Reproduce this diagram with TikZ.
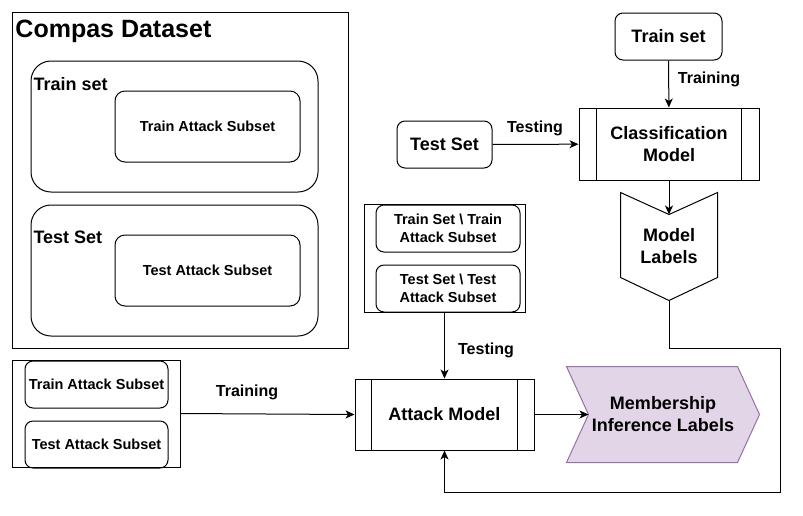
\documentclass[tikz,border=0pt]{standalone}
\usepackage{fontspec}
\setmainfont{Liberation Sans}
\usepackage{xcolor}
\definecolor{miFill}{HTML}{E1D5E7}
\definecolor{miLine}{HTML}{9673A6}
\usepackage{tikz}
\usetikzlibrary{positioning,arrows.meta,calc}

\begin{document}
\begin{tikzpicture}[x=1pt,y=-1pt,line width=1pt,
  box/.style={draw,rounded corners=8pt,align=center,inner sep=0pt,font=\bfseries\fontsize{14.5}{18}\selectfont},
  big/.style={box,font=\bfseries\fontsize{18}{22}\selectfont},
  frame/.style={draw,inner sep=0pt},
  lbl/.style={font=\bfseries\fontsize{16}{19}\selectfont,anchor=base},
  a/.style={-{Stealth[length=9pt,width=8pt,inset=2.5pt]}}]
  \useasboundingbox[fill=white] (0,0) rectangle (803,515);

  \node[frame,minimum width=336,minimum height=336] (compas) at (180,180) {};
  \node[anchor=base west,inner sep=0pt,font=\bfseries\fontsize{25}{30}\selectfont] (ctitle) at (15,37) {Compas Dataset};
  \node[box,rounded corners=20pt,minimum width=287,minimum height=131] (trset) at (174.5,126.5) {};
  \node[anchor=base west,inner sep=0pt,font=\bfseries\fontsize{18}{22}\selectfont] (trtitle) at (33,90) {Train set};
  \node[box,rounded corners=10pt,minimum width=185,minimum height=71] (trsub) at (207.5,126.5) {Train Attack Subset};
  \node[box,rounded corners=20pt,minimum width=287,minimum height=131] (teset) at (174.5,270.5) {};
  \node[anchor=base west,inner sep=0pt,font=\bfseries\fontsize{18}{22}\selectfont] (tetitle) at (33,243) {Test Set};
  \node[box,rounded corners=10pt,minimum width=185,minimum height=71] (tesub) at (207.5,270.5) {Test Attack Subset};

  \node[frame,minimum width=168,minimum height=107] (atkset) at (96,413.5) {};
  \node[box,minimum width=143,minimum height=47] (atktr) at (96.5,384.5) {Train Attack Subset};
  \node[box,minimum width=143,minimum height=47] (atkte) at (96.5,444.5) {Test Attack Subset};

  \node[frame,minimum width=161,minimum height=108] (rest) at (444.5,258) {};
  \node[box,minimum width=144,minimum height=47] (resttr) at (448,228.5) {Train Set \textbackslash\ Train\\Attack Subset};
  \node[box,minimum width=144,minimum height=47] (restte) at (448,288.5) {Test Set \textbackslash\ Test\\Attack Subset};

  \node[big,minimum width=107,minimum height=47] (train) at (668.5,36.5) {Train set};
  \node[big,minimum width=95,minimum height=47] (test) at (444.5,144.5) {Test Set};
  \node[big,rounded corners=0pt,minimum width=180,minimum height=72] (cls) at (669,144) {Classification\\Model};
  \draw ([xshift=18pt]cls.north west) -- ([xshift=18pt]cls.south west);
  \draw ([xshift=-18pt]cls.north east) -- ([xshift=-18pt]cls.south east);

  \node[align=center,font=\bfseries\fontsize{18}{22}\selectfont,minimum width=96,minimum height=107,inner sep=0pt] (labels) at (669,246.5) {Model\\Labels};
  \draw (labels.north west) -- ([yshift=-22pt]labels.north) coordinate (notch) -- (labels.north east)
    -- ([yshift=23pt]labels.south east) -- (labels.south) -- ([yshift=23pt]labels.south west) -- cycle;

  \node[big,rounded corners=0pt,minimum width=179,minimum height=71] (att) at (444.5,414.5) {Attack Model};
  \draw ([xshift=17pt]att.north west) -- ([xshift=17pt]att.south west);
  \draw ([xshift=-17pt]att.north east) -- ([xshift=-17pt]att.south east);

  \node[align=center,font=\bfseries\fontsize{18}{22}\selectfont,minimum width=192,minimum height=95,inner sep=0pt] (mi) at (663,414.5) {};
  \fill[miFill,draw=miLine] (mi.north west) -- ([xshift=-22pt]mi.north east) -- (mi.east)
    -- ([xshift=-22pt]mi.south east) -- (mi.south west) -- ([xshift=22pt]mi.west) coordinate (miin) -- cycle;
  \node[align=center,font=\bfseries\fontsize{18}{22}\selectfont] (mitext) at (mi) {Membership\\Inference Labels};

  \coordinate (turn1) at (780,348);
  \coordinate (turn2) at (780,492);

  \draw[a] (train) -- (cls);
  \draw[a] (test) -- (cls);
  \draw[a] (cls) -- (notch);
  \draw[a] (rest) -- (att);
  \draw[a] (atkset.east) -- (att.west);
  \draw[a] (att) -- (miin);
  \draw[a] (labels.south) |- (turn1) -- (turn2) -| (att.south);

  \node[lbl] at (709,83) {Training};
  \node[lbl] at (535,132) {Testing};
  \node[lbl] at (486,354) {Testing};
  \node[lbl] at (247,396) {Training};
\end{tikzpicture}
\end{document}
